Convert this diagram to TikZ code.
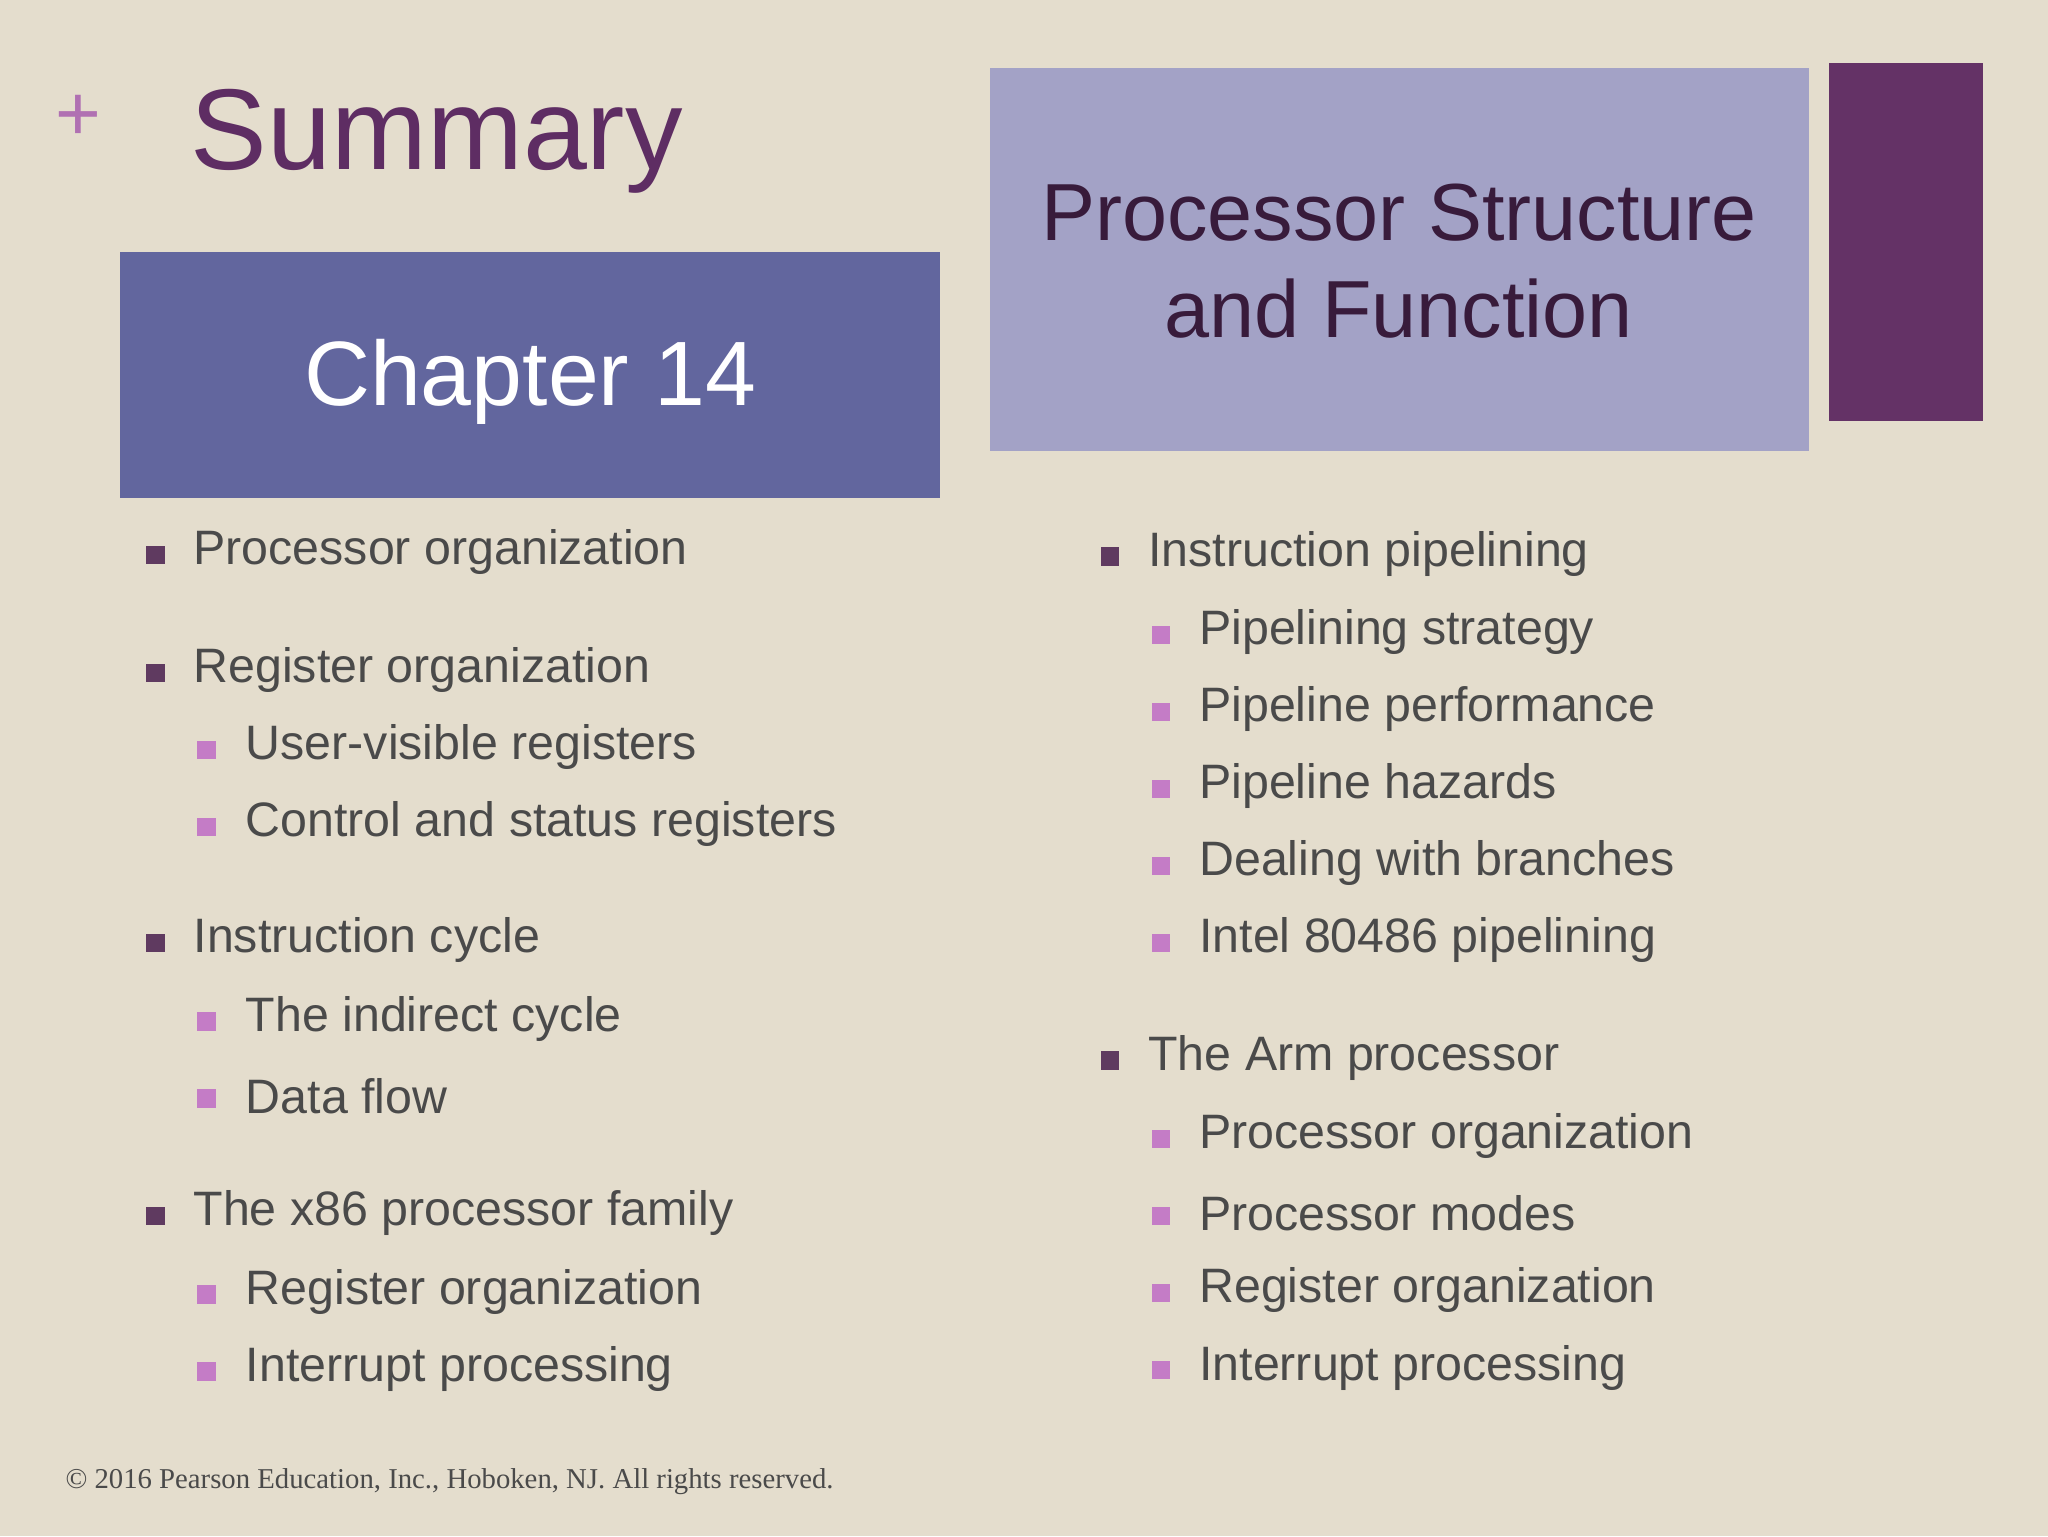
\documentclass[tikz,border=0pt]{standalone}
\usepackage{fontspec}
\setmainfont{Liberation Sans}
\newfontfamily\serifx{Liberation Serif}
\definecolor{bg}{HTML}{E4DDCD}
\definecolor{chap}{HTML}{62669E}
\definecolor{rbox}{HTML}{A3A2C6}
\definecolor{pbar}{HTML}{643266}
\definecolor{ttl}{HTML}{5E2D63}
\definecolor{bdark}{HTML}{5F3A60}
\definecolor{blight}{HTML}{C47CC6}
\definecolor{txt}{HTML}{4A4A4A}
\begin{document}
\begin{tikzpicture}[x=1pt,y=-1pt,
  item/.style={anchor=west,inner sep=0pt,text=txt,font=\fontsize{37}{44}\selectfont},
  sqd/.style={fill=bdark,minimum size=14pt,inner sep=0pt},
  sql/.style={fill=blight,minimum size=14pt,inner sep=0pt}]
\useasboundingbox (0,0) rectangle (1568,1176);
\fill[bg] (0,0) rectangle (1568,1176);
\fill[chap] (92,193) rectangle (720,381);
\fill[rbox] (758,52) rectangle (1385,345);
\fill[pbar] (1400,48) rectangle (1518,322);
\node[text=blight!90!black,font=\fontsize{60}{60}\selectfont] (plus) at (60,90) {+};
\node[anchor=west,text=ttl,inner sep=0pt,font=\fontsize{88}{88}\selectfont] (sum) at (146,108) {Summary};
\node[text=white,font=\fontsize{70}{70}\selectfont] (ch) at (406,292) {Chapter 14};
\node[text=ttl!60!black,align=center,font=\fontsize{62}{74}\selectfont] (ps) at (1071,200) {Processor Structure\\and Function};
\foreach \y/\t/\k in {423/Processor organization/d,513/Register organization/d,572/User-visible registers/l,631/Control and status registers/l,720/Instruction cycle/d,780/The indirect cycle/l,839/Data flow/l,929/The x86 processor family/d,989/Register organization/l,1048/Interrupt processing/l}{
  \if d\k \node[sqd] (ls\y) at (119,\y+2) {}; \node[item] (lt\y) at (148,\y) {\t};
  \else \node[sql] (ls\y) at (158,\y+2) {}; \node[item] (lt\y) at (188,\y) {\t}; \fi }
\foreach \y/\t/\k in {424/Instruction pipelining/d,484/Pipelining strategy/l,543/Pipeline performance/l,602/Pipeline hazards/l,661/Dealing with branches/l,720/Intel 80486 pipelining/l,810/The Arm processor/d,870/Processor organization/l,929/Processor modes/l,988/Register organization/l,1047/Interrupt processing/l}{
  \if d\k \node[sqd] (rs\y) at (850,\y+2) {}; \node[item] (rt\y) at (879,\y) {\t};
  \else \node[sql] (rs\y) at (889,\y+2) {}; \node[item] (rt\y) at (918,\y) {\t}; \fi }
\node[anchor=west,inner sep=0pt,text=txt,font=\serifx\fontsize{22}{26}\selectfont] (copy) at (50,1134) {© 2016 Pearson Education, Inc., Hoboken, NJ. All rights reserved.};
\end{tikzpicture}
\end{document}
